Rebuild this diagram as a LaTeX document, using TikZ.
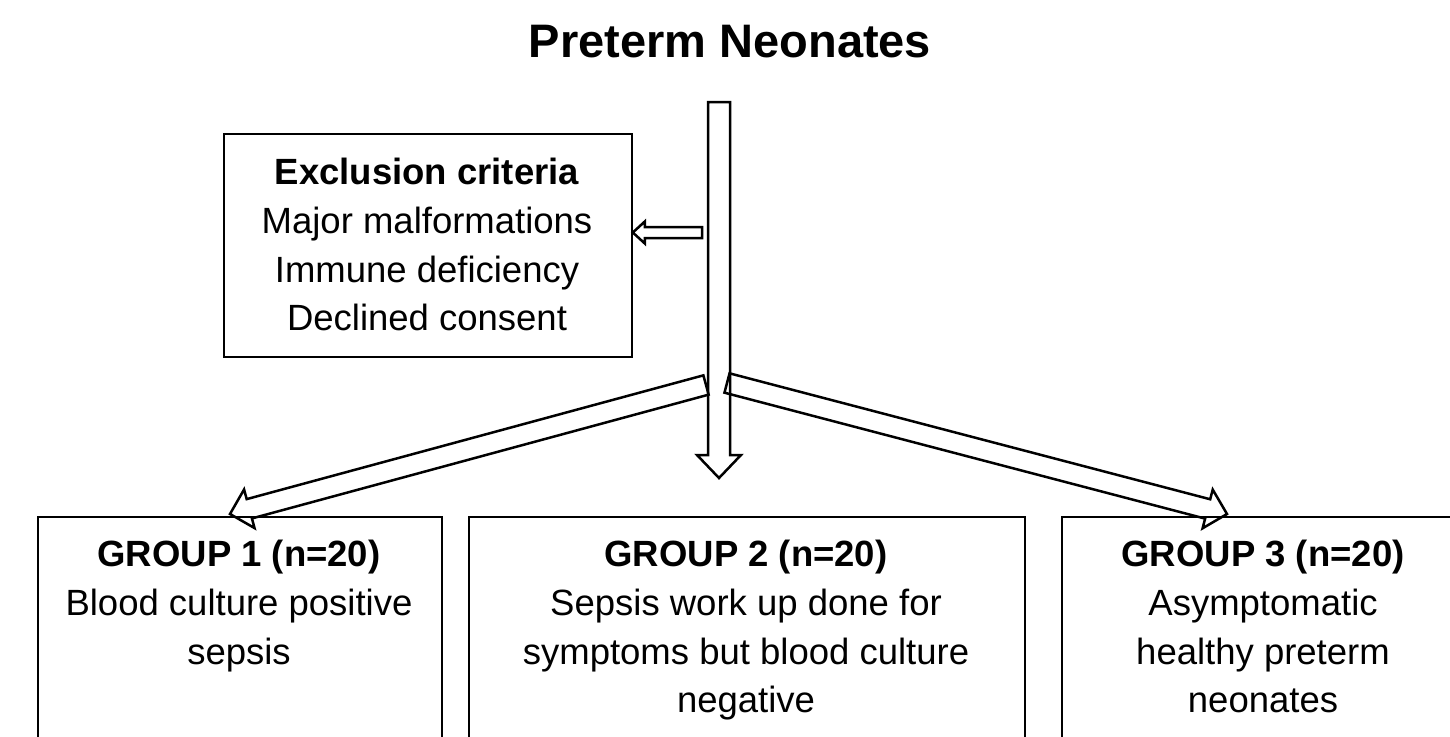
\documentclass[tikz,border=0pt]{standalone}
\usepackage{fontspec}
\setmainfont{Liberation Sans}
\usetikzlibrary{calc}
\tikzset{
  boxline/.style={draw=black, line width=1.8pt},
  blockarrow/.style={draw=black, line width=2.5pt, line join=miter},
  txt/.style={align=center, inner sep=0pt, font=\fontsize{36.5}{48.7}\selectfont, anchor=north},
}
\newcommand\hollowarrow[5]{%
  \coordinate (hb) at ($(#2)!#5!(#1)$);
  \draw[blockarrow,#3] ($(#1)!#4!90:(#2)$) -- ($(hb)!#4!-90:(#1)$)
     -- ($(hb)!2*#4!-90:(#1)$) -- (#2) -- ($(hb)!2*#4!90:(#1)$)
     -- ($(hb)!#4!90:(#1)$) -- ($(#1)!#4!-90:(#2)$) -- cycle;}
\begin{document}
\begin{tikzpicture}[x=1pt,y=-1pt]
\useasboundingbox (0,0) rectangle (1450,736);
\clip (0,0) rectangle (1450,736);
% title
\node[txt, font=\fontsize{47}{56}\selectfont\bfseries] (title) at (730,24.5) {Preterm Neonates};
% exclusion box
\node[boxline, minimum width=408pt, minimum height=223pt, anchor=north west, inner sep=0pt] (ex) at (223,133) {};
\node[txt] (ext) at (427,158) {\textbf{Exclusion criteria}\\Major malformations\\Immune deficiency\\Declined consent};
% group boxes
\node[boxline, minimum width=404pt, minimum height=300pt, anchor=north west, inner sep=0pt] (g1) at (37,516) {};
\node[boxline, minimum width=556pt, minimum height=300pt, anchor=north west, inner sep=0pt] (g2) at (468,516) {};
\node[boxline, minimum width=420pt, minimum height=300pt, anchor=north west, inner sep=0pt] (g3) at (1061,516) {};
\node[txt] (g1t) at (239,540) {\textbf{GROUP 1 (n=20)}\\Blood culture positive\\sepsis};
\node[txt] (g2t) at (746,540) {\textbf{GROUP 2 (n=20)}\\Sepsis work up done for\\symptoms but blood culture\\negative};
\node[txt] (g3t) at (1263,540) {\textbf{GROUP 3 (n=20)}\\Asymptomatic\\healthy preterm\\neonates};
% arrow coordinates
\coordinate (vs) at (719,102);
\coordinate (vt) at (719,478);
\coordinate (es) at (702,232.5);
\coordinate (et) at ($(ex.north east)+(0,99.5)$);
\coordinate (ls) at (706,385);
\coordinate (lt) at ($(g1.north west)+(193,-2)$);
\coordinate (rs) at (727,383);
\coordinate (rt) at ($(g3.north west)+(166,-2)$);
% arrows
\hollowarrow{vs}{vt}{fill=white}{11pt}{23pt}
\hollowarrow{es}{et}{fill=white}{5.5pt}{12pt}
\hollowarrow{ls}{lt}{}{10pt}{20pt}
\hollowarrow{rs}{rt}{}{10pt}{20pt}
\end{tikzpicture}
\end{document}
